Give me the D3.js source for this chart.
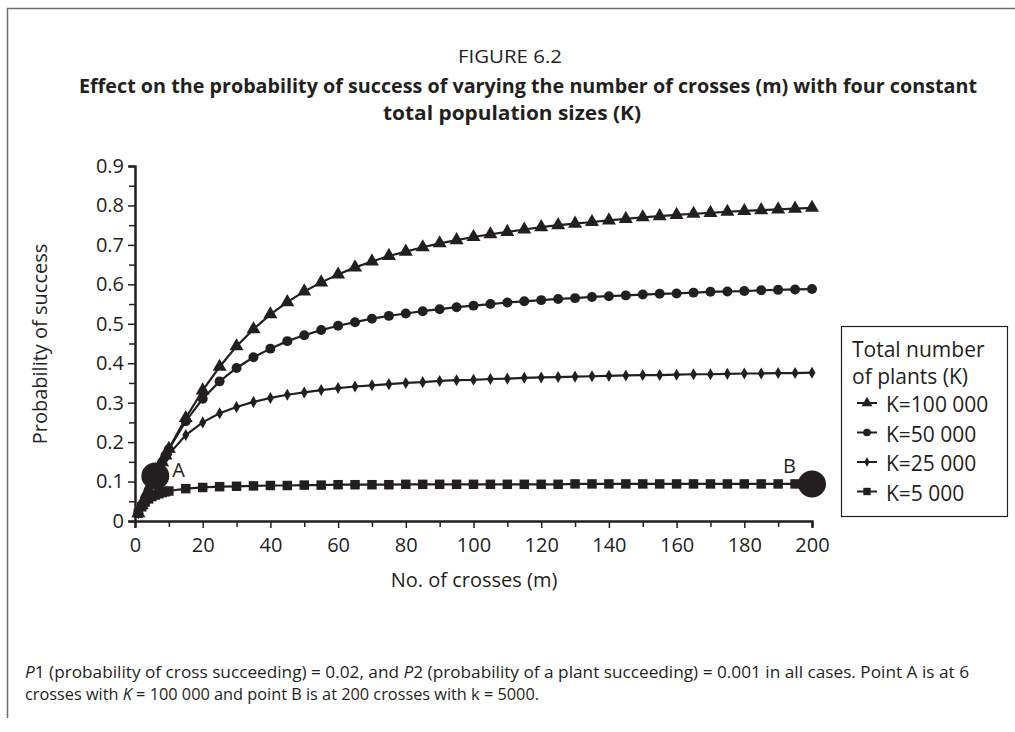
<!DOCTYPE html>
<html>
<head>
<meta charset="utf-8">
<script src="https://cdn.jsdelivr.net/npm/d3@7"></script>
<style>
  body { margin: 0; background: #fff; }
  svg { display: block; }
  text { fill: #231f20; }
</style>
</head>
<body>
<svg id="chart" width="1015" height="732"></svg>
<script>
// number of crosses (m)
var crosses = [1, 2, 3, 4, 5, 6, 7, 8, 9, 10, 15, 20, 25, 30, 35, 40, 45, 50, 55, 60, 65, 70, 75, 80, 85, 90, 95, 100,
  105, 110, 115, 120, 125, 130, 135, 140, 145, 150, 155, 160, 165, 170, 175, 180, 185, 190, 195, 200];

// probability of success
var k100000 = [0.020, 0.040, 0.059, 0.078, 0.096, 0.114, 0.132, 0.149, 0.166, 0.183, 0.261, 0.331, 0.391, 0.443, 0.486,
  0.524, 0.555, 0.582, 0.605, 0.625, 0.643, 0.658, 0.672, 0.683, 0.694, 0.704, 0.712, 0.720, 0.727, 0.733, 0.739,
  0.745, 0.750, 0.754, 0.758, 0.762, 0.766, 0.770, 0.773, 0.776, 0.779, 0.781, 0.784, 0.786, 0.788, 0.790, 0.792, 0.794];
var k50000 = [0.020, 0.040, 0.059, 0.078, 0.096, 0.114, 0.132, 0.149, 0.166, 0.182, 0.253, 0.310, 0.354, 0.388, 0.415,
  0.437, 0.456, 0.471, 0.484, 0.495, 0.504, 0.513, 0.520, 0.526, 0.532, 0.537, 0.542, 0.546, 0.550, 0.554, 0.557,
  0.560, 0.563, 0.565, 0.568, 0.570, 0.572, 0.574, 0.576, 0.577, 0.579, 0.581, 0.582, 0.583, 0.585, 0.586, 0.587, 0.588];
var k25000 = [0.020, 0.040, 0.059, 0.078, 0.096, 0.113, 0.128, 0.143, 0.157, 0.169, 0.218, 0.250, 0.273, 0.289, 0.302,
  0.312, 0.320, 0.326, 0.332, 0.337, 0.341, 0.344, 0.347, 0.350, 0.352, 0.355, 0.357, 0.358, 0.360, 0.361, 0.363,
  0.364, 0.365, 0.366, 0.367, 0.368, 0.369, 0.370, 0.370, 0.371, 0.372, 0.372, 0.373, 0.374, 0.374, 0.375, 0.375, 0.376];
var k5000 = [0.020, 0.036, 0.048, 0.056, 0.062, 0.066, 0.069, 0.072, 0.074, 0.076, 0.082, 0.085, 0.087, 0.088, 0.089,
  0.090, 0.090, 0.091, 0.091, 0.092, 0.092, 0.092, 0.092, 0.093, 0.093, 0.093, 0.093, 0.093, 0.093, 0.093, 0.093,
  0.093, 0.093, 0.094, 0.094, 0.094, 0.094, 0.094, 0.094, 0.094, 0.094, 0.094, 0.094, 0.094, 0.094, 0.094, 0.094, 0.094];

var seriesNames = ["K=100 000", "K=50 000", "K=25 000", "K=5 000"];
var seriesValues = [k100000, k50000, k25000, k5000];
var seriesSymbols = [d3.symbolTriangle, d3.symbolCircle, d3.symbolDiamond, d3.symbolSquare];
var seriesSizes = [85, 78, 42, 90];

var xTicks = [0, 20, 40, 60, 80, 100, 120, 140, 160, 180, 200];
var yTicks = [0, 0.1, 0.2, 0.3, 0.4, 0.5, 0.6, 0.7, 0.8, 0.9];

// the two labelled points
var pointLabels = ["A", "B"];
var pointX = [6, 200];
var pointY = [0.114, 0.094];

var ink = "#231f20";
var font = "'Open Sans', 'Noto Sans', sans-serif";

var svg = d3.select("#chart");

// frame round the figure (top and left show)
svg.append("path")
  .attr("d", "M1015,8.5H7.5V718")
  .attr("fill", "none")
  .attr("stroke", "#6d6d6d")
  .attr("stroke-width", 1.5);

// titles
svg.append("text").attr("x", 510).attr("y", 63)
  .attr("text-anchor", "middle").attr("font-family", font).attr("font-size", 19)
  .attr("textLength", 104).attr("lengthAdjust", "spacingAndGlyphs")
  .text("FIGURE 6.2");
svg.append("text").attr("x", 528).attr("y", 93)
  .attr("text-anchor", "middle").attr("font-family", font).attr("font-size", 20).attr("font-weight", "bold")
  .attr("textLength", 898).attr("lengthAdjust", "spacingAndGlyphs")
  .text("Effect on the probability of success of varying the number of crosses (m) with four constant");
svg.append("text").attr("x", 512).attr("y", 120)
  .attr("text-anchor", "middle").attr("font-family", font).attr("font-size", 20).attr("font-weight", "bold")
  .attr("textLength", 258).attr("lengthAdjust", "spacingAndGlyphs")
  .text("total population sizes (K)");

var x = d3.scaleLinear().domain([0, 200]).range([135, 812]);
var y = d3.scaleLinear().domain([0, 0.9]).range([521, 166]);

// y axis with minor ticks
var yMinor = svg.append("g").attr("transform", "translate(" + x(0) + ",0)")
  .call(d3.axisLeft(y).tickValues(d3.range(0.05, 0.9, 0.1)).tickSize(6).tickFormat(""));
var yAxis = svg.append("g").attr("transform", "translate(" + x(0) + ",0)")
  .call(d3.axisLeft(y).tickValues(yTicks).tickSize(7).tickPadding(4).tickFormat(function(d) { return d === 0 ? "0" : d3.format(".1f")(d); }));

// x axis with minor ticks
var xMinor = svg.append("g").attr("transform", "translate(0," + y(0) + ")")
  .call(d3.axisBottom(x).tickValues(d3.range(10, 200, 20)).tickSize(6).tickFormat(""));
var xAxis = svg.append("g").attr("transform", "translate(0," + y(0) + ")")
  .call(d3.axisBottom(x).tickValues(xTicks).tickSize(7).tickPadding(10));

[yMinor, yAxis, xMinor, xAxis].forEach(function(g) {
  g.selectAll(".domain").attr("stroke", ink).attr("stroke-width", 2);
  g.selectAll(".tick line").attr("stroke", ink).attr("stroke-width", 1.5);
  g.selectAll(".tick text").attr("font-family", font).attr("font-size", 20).attr("fill", ink);
});

svg.append("text")
  .attr("transform", "translate(47,344) rotate(-90)")
  .attr("text-anchor", "middle").attr("font-family", font).attr("font-size", 20)
  .text("Probability of success");
svg.append("text").attr("x", 474).attr("y", 587)
  .attr("text-anchor", "middle").attr("font-family", font).attr("font-size", 20)
  .text("No. of crosses (m)");

// series lines and markers
var line = d3.line()
  .x(function(d) { return x(d[0]); })
  .y(function(d) { return y(d[1]); });

var plot = svg.append("g");
seriesValues.forEach(function(vals, i) {
  var pts = crosses.map(function(c, j) { return [c, vals[j]]; });
  plot.append("path").datum(pts)
    .attr("d", line)
    .attr("fill", "none")
    .attr("stroke", ink)
    .attr("stroke-width", 2.2);
  plot.selectAll(".m" + i).data(pts).enter().append("path")
    .attr("class", "m" + i)
    .attr("transform", function(d) { return "translate(" + x(d[0]) + "," + y(d[1]) + ")"; })
    .attr("d", d3.symbol().type(seriesSymbols[i]).size(seriesSizes[i]))
    .attr("fill", ink);
});

// big points A and B
pointLabels.forEach(function(lab, i) {
  plot.append("ellipse")
    .attr("cx", x(pointX[i])).attr("cy", y(pointY[i]))
    .attr("rx", 14).attr("ry", 13.5)
    .attr("fill", ink);
});
svg.append("text").attr("x", x(pointX[0]) + 17).attr("y", y(pointY[0]) + 1)
  .attr("font-family", font).attr("font-size", 20).text(pointLabels[0]);
svg.append("text").attr("x", x(pointX[1]) - 29).attr("y", y(pointY[1]) - 11)
  .attr("font-family", font).attr("font-size", 20).text(pointLabels[1]);

// legend
var lg = svg.append("g");
lg.append("rect").attr("x", 841.5).attr("y", 326.5).attr("width", 166).attr("height", 190)
  .attr("fill", "#fff").attr("stroke", ink).attr("stroke-width", 1.2);
lg.append("text").attr("x", 852).attr("y", 357).attr("font-family", font).attr("font-size", 21).text("Total number");
lg.append("text").attr("x", 852).attr("y", 384).attr("font-family", font).attr("font-size", 21).text("of plants (K)");
seriesNames.forEach(function(name, i) {
  var ly = 406 + i * 29.5;
  lg.append("line").attr("x1", 857).attr("x2", 877).attr("y1", ly - 3).attr("y2", ly - 3)
    .attr("stroke", ink).attr("stroke-width", 2);
  lg.append("path").attr("transform", "translate(867," + (ly - 3) + ")")
    .attr("d", d3.symbol().type(seriesSymbols[i]).size(seriesSizes[i] * 0.6))
    .attr("fill", ink);
  lg.append("text").attr("x", 886).attr("y", ly + 6).attr("font-family", font).attr("font-size", 21).text(name);
});

// footnote
var note = svg.append("g").attr("font-family", font).attr("font-size", 16);
var n1 = note.append("text").attr("x", 25).attr("y", 678)
  .attr("textLength", 944).attr("lengthAdjust", "spacingAndGlyphs");
n1.append("tspan").attr("font-style", "italic").text("P");
n1.append("tspan").text("1 (probability of cross succeeding) = 0.02, and ");
n1.append("tspan").attr("font-style", "italic").text("P");
n1.append("tspan").text("2 (probability of a plant succeeding) = 0.001 in all cases. Point A is at 6");
var n2 = note.append("text").attr("x", 25).attr("y", 700)
  .attr("textLength", 514).attr("lengthAdjust", "spacingAndGlyphs");
n2.append("tspan").text("crosses with ");
n2.append("tspan").attr("font-style", "italic").text("K");
n2.append("tspan").text(" = 100 000 and point B is at 200 crosses with k = 5000.");
</script>
</body>
</html>
